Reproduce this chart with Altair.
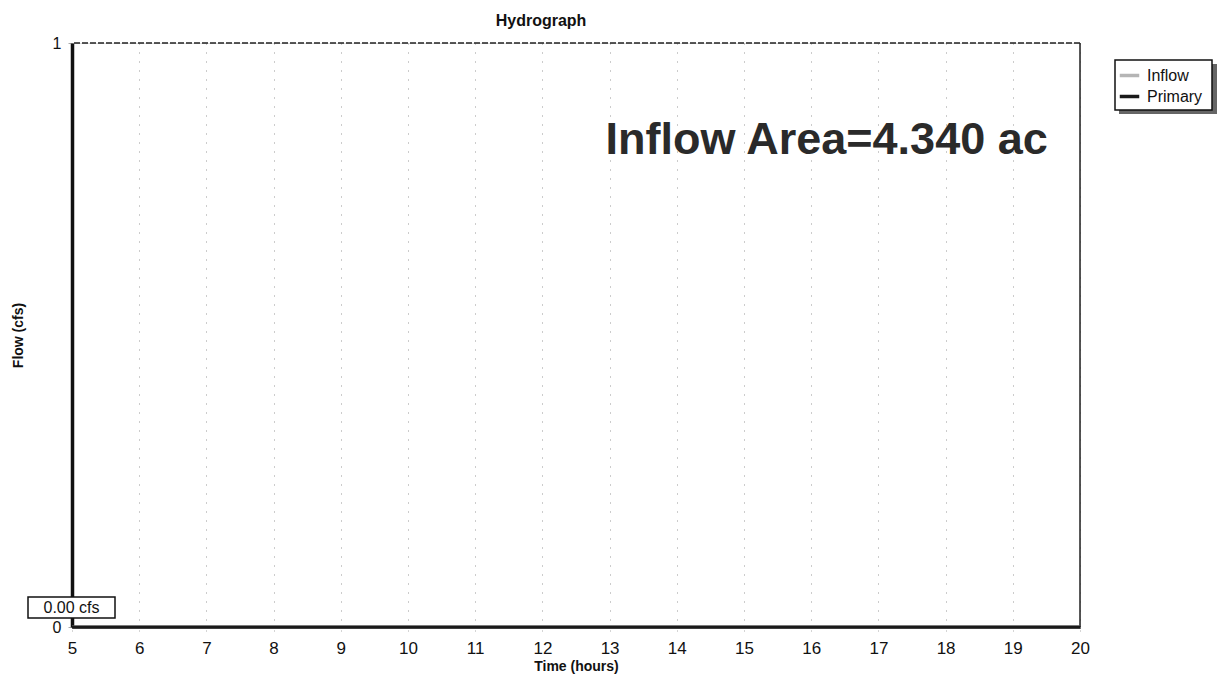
import altair as alt
import pandas as pd

# ---- data ----
time_hours = [5, 6, 7, 8, 9, 10, 11, 12, 13, 14, 15, 16, 17, 18, 19, 20]
inflow_cfs = [0, 0, 0, 0, 0, 0, 0, 0, 0, 0, 0, 0, 0, 0, 0, 0]
primary_cfs = [0, 0, 0, 0, 0, 0, 0, 0, 0, 0, 0, 0, 0, 0, 0, 0]
series_names = ["Inflow", "Primary"]
series_colors = ["#b5b5b5", "#1a1a1a"]
x_ticks = list(range(5, 21))
y_ticks = [0, 1]
annotation_text = "Inflow Area=4.340 ac"
peak_label = "0.00 cfs"

rows = []
for t, v in zip(time_hours, inflow_cfs):
    rows.append({"time": t, "flow": v, "series": "Inflow"})
for t, v in zip(time_hours, primary_cfs):
    rows.append({"time": t, "flow": v, "series": "Primary"})
df = pd.DataFrame(rows)

FONT = "Liberation Sans"
W, H = 1008, 584

xscale = alt.Scale(domain=[5, 20], nice=False, zero=False)
yscale = alt.Scale(domain=[0, 1], nice=False)

lines = alt.Chart(df).mark_line(strokeWidth=3, clip=False).encode(
    x=alt.X("time:Q", scale=xscale,
            axis=alt.Axis(title="Time (hours)", values=x_ticks, format="d",
                          grid=True, gridDash=[1, 8], gridColor="#999999",
                          gridWidth=1, domainWidth=3, domainColor="#111111",
                          tickSize=5, tickColor="#aaaaaa", tickDash=[1, 2],
                          labelFontSize=17, labelPadding=8, labelColor="#111111",
                          labelFlush=False, labelOverlap=False,
                          labelFont=FONT, titleFont=FONT, titleFontSize=14,
                          titleFontWeight="bold", titlePadding=3,
                          titleColor="#111111")),
    y=alt.Y("flow:Q", scale=yscale,
            axis=alt.Axis(title="Flow (cfs)", values=y_ticks, format="d",
                          grid=False, domainWidth=3.5, domainColor="#111111",
                          tickSize=4, tickColor="#aaaaaa", labelFontSize=16,
                          labelPadding=7, labelColor="#111111", labelFont=FONT,
                          labelFlush=False,
                          titleFont=FONT, titleFontSize=14, titleFontWeight="bold",
                          titlePadding=27, titleColor="#111111")),
    color=alt.Color("series:N",
                    scale=alt.Scale(domain=series_names, range=series_colors),
                    legend=alt.Legend(title=None, orient="none", legendX=1046,
                                      legendY=21, symbolType="stroke",
                                      symbolStrokeWidth=3.5, symbolSize=380,
                                      labelFont=FONT, labelFontSize=16,
                                      labelColor="#111111", padding=0,
                                      rowPadding=1, labelOffset=6)),
    order=alt.Order("series:N"),
)

top_border = alt.Chart(pd.DataFrame({"y": [1]})).mark_rule(
    color="#222222", strokeWidth=1.5, strokeDash=[6, 2]
).encode(y=alt.Y("y:Q", scale=yscale))

right_border = alt.Chart(pd.DataFrame({"x": [20]})).mark_rule(
    color="#222222", strokeWidth=1.5
).encode(x=alt.X("x:Q", scale=xscale))

big_text = alt.Chart(pd.DataFrame({"x": [19.52], "y": [0.834], "t": [annotation_text]})).mark_text(
    font=FONT, fontSize=45, fontWeight="bold", align="right", baseline="middle",
    color="#2a2a2a"
).encode(x=alt.X("x:Q", scale=xscale), y=alt.Y("y:Q", scale=yscale), text="t:N")

box = alt.Chart(pd.DataFrame({"a": [0]})).mark_rect(
    fill="white", stroke="#111111", strokeWidth=1.5
).encode(x=alt.value(-44), x2=alt.value(43), y=alt.value(554), y2=alt.value(575))

box_text = alt.Chart(pd.DataFrame({"t": [peak_label]})).mark_text(
    font=FONT, fontSize=16, color="#111111", align="center", baseline="middle"
).encode(x=alt.value(-0.5), y=alt.value(565), text="t:N")

shadow = alt.Chart(pd.DataFrame({"a": [0]})).mark_rect(
    fill="#666666"
).encode(x=alt.value(1047), x2=alt.value(1145), y=alt.value(21), y2=alt.value(71))

legend_box = alt.Chart(pd.DataFrame({"a": [0]})).mark_rect(
    fill="white", stroke="#111111", strokeWidth=1.5
).encode(x=alt.value(1043), x2=alt.value(1140), y=alt.value(17), y2=alt.value(67))

chart = alt.layer(
    shadow, legend_box, top_border, right_border, lines, big_text, box, box_text
).properties(
    width=W, height=H,
    title=alt.Title("Hydrograph", font=FONT, fontSize=16, fontWeight="bold",
                    color="#111111", anchor="middle", dx=-35, offset=6),
    autosize=alt.AutoSizeParams(type="none"),
    padding={"left": 64, "top": 35, "right": 137, "bottom": 48},
).configure_view(stroke=None).configure(background="white")

chart.save("out.html", embed_options={"renderer": "svg", "actions": False})
